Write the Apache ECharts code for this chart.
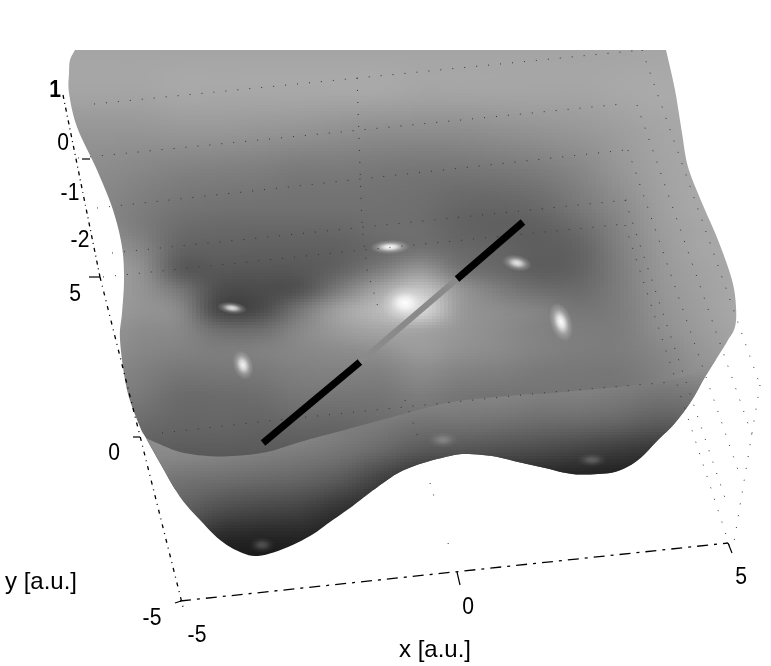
<!DOCTYPE html>
<html><head><meta charset="utf-8">
<style>html,body{margin:0;padding:0;background:#fff}#c{width:771px;height:666px}</style>
<script src="https://cdn.jsdelivr.net/npm/echarts@6/dist/echarts.min.js"></script>
</head><body><div id="c"></div>
<script>
// ---- data (image-plane coordinates, gray levels 0-255) ----
const sampleX = [60,100,140,180,220,260,300,340,380,420,460,500,540,580,620,660,700,740];
const backY = [50,90,130,170,210,230,250,270,290,310,330,350,370,395,430,460,490];
const backGray = [
[165,165,165,165,165,165,165,165,165,165,165,165,165,165,165,166,168,168],
[165,165,165,168,168,168,168,168,168,165,165,165,165,165,168,170,170,170],
[150,150,150,152,152,150,148,145,142,142,142,145,148,152,158,165,168,168],
[142,140,135,130,128,126,122,122,120,118,118,120,125,135,150,162,168,168],
[135,135,125,116,113,112,112,112,112,110,102,100,105,120,138,158,168,168],
[140,140,125,108,104,103,103,104,110,110,100, 96, 96,108,132,155,165,168],
[150,150,135,100, 97, 96, 96, 97,106,115,105,100, 94,100,128,152,165,168],
[155,155,145, 92, 88, 87, 88,100,125,150,118,105, 94,100,125,150,162,168],
[155,155,148,118, 78, 76, 84,125,165,195,150,125,110,108,125,148,160,168],
[155,155,148,135, 72, 76,118,160,185,215,155,140,130,118,125,145,158,168],
[150,150,140,135,110,110,135,155,165,165,150,140,130,125,125,142,155,165],
[145,145,135,130,125,128,135,140,145,155,145,138,130,125,125,135,150,160],
[138,138,128,120,120,122,128,130,130,140,132,128,122,120,120,130,145,155],
[130,130,120,108,108,110,118,118,118,125,118,115,115,115,115,125,140,150],
[118,118,105,100,100, 98,100,100,105,108,105,102,100,100,100,110,125,140],
[110,110, 92, 88, 88, 88, 88, 88, 92, 95, 95, 92, 90, 90, 95,105,120,130],
[100,100, 85, 85, 85, 85, 85, 85, 90, 95, 95, 92, 90, 90, 95,105,120,130]
];
const frontY = [360,390,420,450,480,510,540,570];
const frontGray = [
[145,145,145,145,145,145,145,145,145,145,145,145,140,140,140,140,150,150],
[145,145,145,145,145,145,145,145,145,140,135,135,130,130,125,120,125,130],
[145,145,145,145,145,145,140,130,125,118,118,115,110,108,103, 95,100,110],
[140,140,138,138,135,130,125,118,105, 90, 85, 80, 75, 68, 60, 55, 60, 70],
[130,130,125,115,110,105,100, 88, 65, 45, 40, 38, 35, 32, 30, 28, 30, 30],
[100,100,100, 95, 78, 70, 65, 50, 40, 35, 35, 35, 35, 30, 30, 30, 30, 30],
[ 60, 60, 60, 60, 40, 35, 35, 30, 30, 30, 30, 30, 30, 30, 30, 30, 30, 30],
[ 25, 25, 25, 25, 25, 25, 25, 25, 25, 25, 25, 25, 25, 25, 25, 25, 25, 25]
];
const outlineX = [75,70,69,69,77,97,113,122,124,122,120,127,140,146,160,180,200,220,240,258,283,310,330,350,363,383,400,423,450,465,492,518,545,572,598,618,638,658,675,692,705,722,728,735,736,732,718,702,688,682,675,666];
const outlineY = [50,60,73,93,127,170,210,247,280,313,340,390,427,438,463,497,520,540,552,556,549,536,522,508,498,483,472,463,456,454,456,462,468,474,474,471,460,440,423,400,377,350,340,327,307,280,240,203,167,133,90,50];
const foldX = [146,157,180,207,233,267,300,333,385,418,452,485,518,552,585,618,652,675,695,712,722];
const foldY = [438,443,452,456,456,452,442,433,419,410,402,398,395,393,390,387,383,379,372,360,350];
const lowerOutlineFrom = 13, lowerOutlineTo = 41;
const glintX = [232,243,390,405,517,561,443,592,262];
const glintY = [308,365,247,303,263,322,440,460,545];
const glintAlpha = [0.85,0.9,1,1,0.85,1,0.22,0.22,0.22];
const zTickLabels = ['1','0','-1','-2'];
const yTickLabels = ['5','0','-5'];
const xTickLabels = ['-5','0','5'];
const axisTitles = ['x [a.u.]','y [a.u.]'];
const beamA = [[263,443],[360,362]];
const beamB = [[360,362],[457,279]];
const beamC = [[457,279],[523,222]];
const wallLines = [
 [[94,104],[642,50]],[[78,158],[622,104]],[[97,208],[625,150]],[[112,253],[627,200]],[[103,277],[363,250],[625,224]],
 [[162,433],[277,420],[405,407],[552,392],[672,382]],
 [[357,78],[362,227],[367,270],[378,307]],[[405,400],[418,437]],[[430,483],[435,500]],[[448,543],[451,552]],
 [[642,50],[760,385]],[[637,105],[753,438]],[[628,150],[738,470]],[[625,200],[728,507]],[[625,225],[732,553]],[[760,385],[733,548]]
];
const axisZ = [[63,95],[100,277]];
const axisY = [[100,277],[184,611]];
const axisX = [[180,601],[728,543]];
const tickSegs = [[[89,277],[100,277]],[[133,437],[140,437]],[[175,603],[181,601]],[[457,572],[460,585]],[[728,543],[732,553]],[[82,159],[90,159]]];

// ---- layout (separate from values) ----
const glintShape = [[15,6,-0.12],[10,15,0.3],[20,7,0.03],[24,18,0],[15,8,-0.2],[11,20,0.3],[15,8,0],[15,7,0],[13,8,0]];
const labelSpots = [
 [zTickLabels[0],55,90,24,'bold'],[zTickLabels[1],63,143,24],[zTickLabels[2],70,193,24],[zTickLabels[3],80,240,24],
 [yTickLabels[0],75,294,24],[yTickLabels[1],114,453,24],[yTickLabels[2],152,618,24],
 [xTickLabels[0],197,635,24],[xTickLabels[1],468,607,24],[xTickLabels[2],741,577,24],
 [axisTitles[0],435,650,24],[axisTitles[1],41,582,24]
];
function gridData(ys, g){ const d=[]; ys.forEach((y,j)=>sampleX.forEach((x,i)=>d.push([x,y,g[j][i],i,j]))); return d; }
function cr(p0,p1,p2,p3,t){ return 0.5*((2*p1)+(-p0+p2)*t+(2*p0-5*p1+4*p2-p3)*t*t+(-p0+3*p1-3*p2+p3)*t*t*t); }
function smooth(pts){ // rounds a traced outline so it draws as a curve
  const out=[]; const n=pts.length;
  for(let k=0;k<n-1;k++){
    const a=pts[Math.max(0,k-1)],b=pts[k],c=pts[k+1],d=pts[Math.min(n-1,k+2)];
    for(let s=0;s<6;s++){ const t=s/6; out.push([cr(a[0],b[0],c[0],d[0],t),cr(a[1],b[1],c[1],d[1],t)]); }
  }
  out.push(pts[n-1]); return out;
}
function surface(ys, g, polyFn, name){
  const nx=sampleX.length, ny=ys.length;
  const at=(i,j)=>g[Math.max(0,Math.min(ny-1,j))][Math.max(0,Math.min(nx-1,i))];
  const poly=polyFn();
  return {
    type:'custom', name, coordinateSystem:'cartesian2d', silent:true, animation:false, clip:false,
    data:gridData(ys,g), encode:{x:0,y:1},
    renderItem(params, api){
      const i=api.value(3), j=api.value(4);
      if(i>=nx-1||j>=ny-1) return {type:'group',children:[]};
      const a=api.coord([sampleX[i],ys[j]]), b=api.coord([sampleX[i+1],ys[j+1]]);
      const x0=Math.round(a[0]),y0=Math.round(a[1]),x1=Math.round(b[0]),y1=Math.round(b[1]);
      const children=[]; const sw=4, sh=3;
      const col=(t,k)=>cr(at(i-1,k),at(i,k),at(i+1,k),at(i+2,k),t);
      for(let y=y0;y<y1;y+=sh){ const v=(y+sh/2-y0)/(y1-y0);
        for(let x=x0;x<x1;x+=sw){ const u=(x+sw/2-x0)/(x1-x0);
          const s=cr(col(u,j-1),col(u,j),col(u,j+1),col(u,j+2),v);
          const c=Math.max(0,Math.min(255,Math.round(s)));
          children.push({type:'rect',shape:{x,y,width:Math.min(sw,x1-x),height:Math.min(sh,y1-y)},style:{fill:`rgb(${c},${c},${c})`}});
        }}
      return {type:'group',children,clipPath:{type:'polygon',shape:{points:poly.map(p=>api.coord(p))}}};
    }
  };
}
const wholePoly=()=>smooth(outlineX.map((x,k)=>[x,outlineY[k]]));
const frontPoly=()=>{
  const pts=smooth(foldX.map((x,k)=>[x,foldY[k]]));
  const low=[]; for(let k=lowerOutlineTo;k>=lowerOutlineFrom;k--) low.push([outlineX[k],outlineY[k]]);
  return pts.concat(smooth(low));
};
function glints(idx){
  return {type:'custom',name:'glints',coordinateSystem:'cartesian2d',silent:true,animation:false,
    data:idx.map(k=>[glintX[k],glintY[k],glintAlpha[k],k]),encode:{x:0,y:1},
    renderItem(params,api){
      const p=api.coord([api.value(0),api.value(1)]), a=api.value(2), s=glintShape[api.value(3)];
      return {type:'circle',x:p[0],y:p[1],scaleX:s[0],scaleY:s[1],rotation:s[2],shape:{cx:0,cy:0,r:1},
        style:{fill:new echarts.graphic.RadialGradient(0.5,0.5,0.5,[
          {offset:0,color:`rgba(255,255,255,${a})`},{offset:0.3,color:`rgba(248,248,248,${a*0.8})`},
          {offset:0.65,color:`rgba(230,230,230,${a*0.28})`},{offset:1,color:'rgba(220,220,220,0)'}])}};
    }};
}
function seg(name,pts,style){
  return {type:'line',name,data:pts,showSymbol:false,symbol:'none',silent:true,animation:false,lineStyle:style,z:style.z||5};
}
const series=[
  surface(backY,backGray,wholePoly,'rear surface'),
  glints([0,1,2,3,4,5]),
  surface(frontY,frontGray,frontPoly,'front surface'),
  glints([6,7,8])
];
wallLines.forEach((l,k)=>series.push(seg('wall'+k,l,{color:'#333',width:1,type:[1,11]})));
series.push(seg('beam1',beamA,{color:'#000',width:7,cap:'butt'}));
series.push(seg('beam2',beamB,{color:'#8a8a8a',width:6,cap:'butt'}));
series.push(seg('beam3',beamC,{color:'#000',width:7,cap:'butt'}));
series.push(seg('z axis',axisZ,{color:'#000',width:1.3,type:[4,4,1,4]}));
series.push(seg('y axis',axisY,{color:'#000',width:1.3,type:[4,5,1,5]}));
series.push(seg('x axis',axisX,{color:'#000',width:1.3,type:[11,6,3,6]}));
tickSegs.forEach((l,k)=>series.push(seg('tick'+k,l,{color:'#000',width:1.2})));
series.push({type:'custom',name:'labels',coordinateSystem:'cartesian2d',silent:true,animation:false,clip:false,
  data:labelSpots.map((l,k)=>[l[1],l[2],k]),encode:{x:0,y:1},
  renderItem(params,api){
    const p=api.coord([api.value(0),api.value(1)]), k=api.value(2), l=labelSpots[k];
    return {type:'text',x:p[0],y:p[1],scaleX:k<10?0.88:1,style:{text:l[0],fill:'#000',align:'center',verticalAlign:'middle',
      font:`${l[4]||'normal'} ${l[3]}px "Liberation Sans", Arial, sans-serif`}};
  }});
const chart=echarts.init(document.getElementById('c'),null,{renderer:'canvas'});
chart.setOption({
  animation:false,backgroundColor:'#fff',
  grid:{left:0,right:0,top:0,bottom:0},
  xAxis:{type:'value',min:0,max:771,show:false},
  yAxis:{type:'value',min:0,max:666,inverse:true,show:false},
  series
});
</script></body></html>
